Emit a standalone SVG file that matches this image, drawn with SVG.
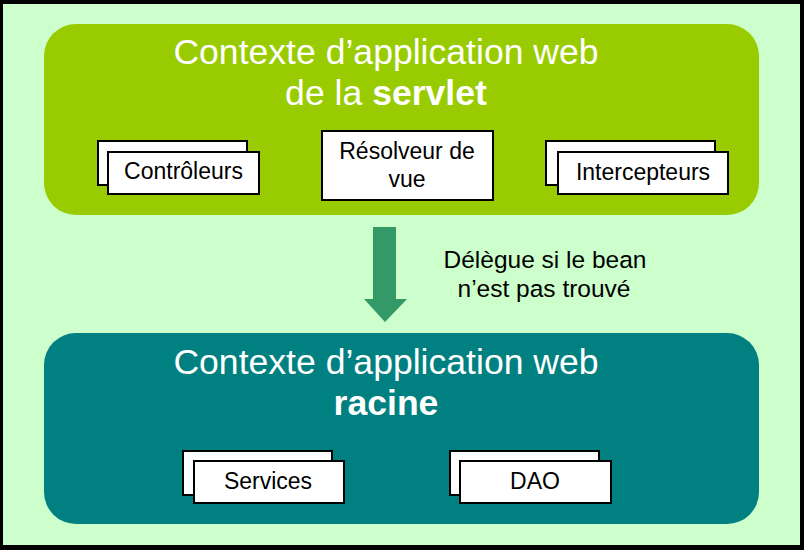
<svg xmlns="http://www.w3.org/2000/svg" width="804" height="550" viewBox="0 0 804 550">
<style>
.title{font-family:"Liberation Sans",Arial,sans-serif;font-size:35.6px;fill:#ffffff;text-anchor:middle}
.lbl{font-family:"Liberation Sans",Arial,sans-serif;font-size:23px;fill:#000000;text-anchor:middle}
.note{font-family:"Liberation Sans",Arial,sans-serif;font-size:24.5px;fill:#000000;text-anchor:middle}
.box{fill:#ffffff;stroke:#000000;stroke-width:2}
</style>
<rect x="0" y="0" width="804" height="550" fill="#000000"/>
<rect x="3" y="4" width="797" height="541" fill="#ccffcc"/>
<g id="servlet-context">
<rect x="44" y="24" width="715" height="191" rx="32" ry="32" fill="#99cc00"/>
<text class="title" x="386" y="64">Contexte d’application web</text>
<text class="title" x="386" y="105">de la <tspan font-weight="bold">servlet</tspan></text>
</g>
<g id="controleurs">
<rect class="box" x="98" y="141" width="149" height="44"/>
<rect class="box" x="108" y="152" width="151" height="42"/>
<text class="lbl" x="183.5" y="179">Contrôleurs</text>
</g>
<g id="resolveur">
<rect class="box" x="322" y="131" width="171" height="69"/>
<text class="lbl" x="407" y="159">Résolveur de</text>
<text class="lbl" x="407" y="187">vue</text>
</g>
<g id="intercepteurs">
<rect class="box" x="546" y="141" width="169" height="44"/>
<rect class="box" x="558" y="152" width="170" height="42"/>
<text class="lbl" x="643" y="180">Intercepteurs</text>
</g>
<g id="connectors">
<polygon points="373,227 396,227 396,299 407,299 385,322 364,299 373,299" fill="#339966"/>
<text class="note" x="545" y="268">Délègue si le bean</text>
<text class="note" x="544" y="297">n’est pas trouvé</text>
</g>
<g id="root-context">
<rect x="44" y="333" width="715" height="191" rx="32" ry="32" fill="#008080"/>
<text class="title" x="386" y="374">Contexte d’application web</text>
<text class="title" x="386" y="415" font-weight="bold">racine</text>
</g>
<g id="services">
<rect class="box" x="183" y="451" width="149" height="44"/>
<rect class="box" x="194" y="461" width="150" height="42"/>
<text class="lbl" x="268" y="489">Services</text>
</g>
<g id="dao">
<rect class="box" x="450" y="451" width="149" height="44"/>
<rect class="box" x="460" y="461" width="151" height="42"/>
<text class="lbl" x="535" y="489">DAO</text>
</g>
</svg>
